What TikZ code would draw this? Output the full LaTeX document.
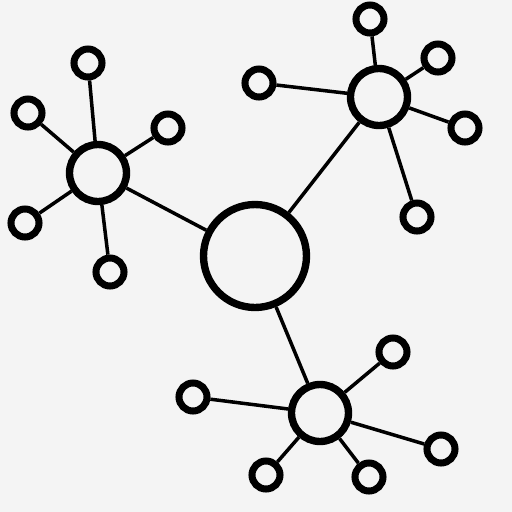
\documentclass[tikz,border=0pt]{standalone}
\definecolor{bg}{RGB}{244,244,244}
\begin{document}
\begin{tikzpicture}[x=0.02cm,y=-0.02cm]
\tikzstyle{hub} = [circle,draw=black,fill=bg,line width=4.2pt,inner sep=0pt,minimum size=1.14cm]
\tikzstyle{leaf} = [circle,draw=black,fill=bg,line width=4pt,inner sep=0pt,minimum size=0.56cm]
\tikzstyle{link} = [black,line width=2pt]

\fill[bg] (0,0) rectangle (512,512);
\useasboundingbox (0,0) rectangle (512,512);

\node[hub,minimum size=2.06cm] (core) at (255,256) {};
\node[hub] (tl) at (98,173) {};
\node[hub] (tr) at (379,97) {};
\node[hub] (bt) at (320,413) {};

\node[leaf] (tl1) at (88,63) {};
\node[leaf] (tl2) at (28,113) {};
\node[leaf] (tl3) at (168,128) {};
\node[leaf] (tl4) at (25,223) {};
\node[leaf] (tl5) at (110,272) {};

\node[leaf] (tr1) at (370,19) {};
\node[leaf] (tr2) at (438,58) {};
\node[leaf] (tr3) at (259,83) {};
\node[leaf] (tr4) at (465,128) {};
\node[leaf] (tr5) at (417,217) {};

\node[leaf] (bt1) at (393,352) {};
\node[leaf] (bt2) at (193,397) {};
\node[leaf] (bt3) at (441,449) {};
\node[leaf] (bt4) at (266,475) {};
\node[leaf] (bt5) at (369,477) {};

\draw[link] (core) -- (tl);
\draw[link] (core) -- (tr);
\draw[link] (core) -- (bt);
\foreach \h in {tl,tr,bt}
  \foreach \i in {1,...,5}
    \draw[link] (\h) -- (\h\i);
\end{tikzpicture}
\end{document}
